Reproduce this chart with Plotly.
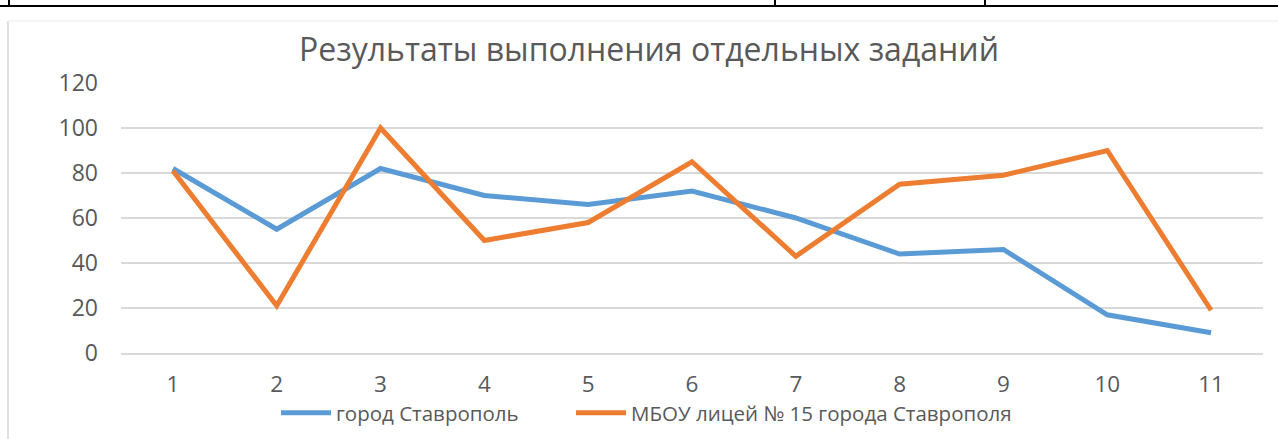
import plotly.graph_objects as go

tasks = ["1", "2", "3", "4", "5", "6", "7", "8", "9", "10", "11"]
city = [82, 55, 82, 70, 66, 72, 60, 44, 46, 17, 9]
school = [81, 21, 100, 50, 58, 85, 43, 75, 79, 90, 19]
series_names = ["город Ставрополь", "МБОУ лицей № 15 города Ставрополя"]
title_text = "Результаты выполнения отдельных заданий"

W, H = 1278, 439
L, R, T, B = 121, 15, 83, 86
PW, PH = W - L - R, H - T - B

def px(x):
    return (x - L) / PW

def py(y):
    return (H - B - y) / PH

FONT = "Open Sans"
GREY_TXT = "#595959"

fig = go.Figure()
fig.add_trace(go.Scatter(x=tasks, y=city, name=series_names[0], mode="lines",
                         line=dict(color="#5B9BD5", width=5), legend="legend"))
fig.add_trace(go.Scatter(x=tasks, y=school, name=series_names[1], mode="lines",
                         line=dict(color="#ED7D31", width=5), legend="legend2"))

shapes = []
# table border at top
shapes.append(dict(type="line", xref="paper", yref="paper", x0=px(0), x1=px(W), y0=py(6), y1=py(6),
                   line=dict(color="black", width=2)))
for xv in [9, 775, 985]:
    shapes.append(dict(type="line", xref="paper", yref="paper", x0=px(xv), x1=px(xv), y0=py(0), y1=py(6),
                       line=dict(color="black", width=2)))
# chart frame
shapes.append(dict(type="line", xref="paper", yref="paper", x0=px(8), x1=px(8), y0=py(21), y1=py(H),
                   line=dict(color="#d9d9d9", width=1.5)))
shapes.append(dict(type="line", xref="paper", yref="paper", x0=px(8), x1=px(W), y0=py(21), y1=py(21),
                   line=dict(color="#ececec", width=1)))

legend_common = dict(orientation="h", xref="paper", yref="paper", yanchor="middle", xanchor="left",
                     font=dict(size=20.5, color=GREY_TXT, family=FONT), bgcolor="rgba(0,0,0,0)",
                     itemwidth=50, tracegroupgap=0)

fig.update_layout(
    width=W, height=H,
    margin=dict(l=L, r=R, t=T, b=B, autoexpand=False),
    paper_bgcolor="white", plot_bgcolor="white",
    font=dict(family=FONT, color=GREY_TXT),
    title=dict(text=title_text, xref="container", yref="container", x=649 / W, y=1 - 50 / H,
               xanchor="center", yanchor="middle", font=dict(size=32, color=GREY_TXT, family=FONT)),
    showlegend=True,
    legend=dict(x=px(276), y=py(413), **legend_common),
    legend2=dict(x=px(571), y=py(413), **legend_common),
    xaxis=dict(type="category", range=[-0.5, 10.5], showgrid=False, zeroline=False,
               showline=True, linecolor="#d9d9d9", linewidth=1.5, automargin=False,
               tickfont=dict(size=22.5, color=GREY_TXT), ticks="", ticklabelstandoff=10),
    yaxis=dict(range=[0, 120], dtick=20, tick0=0, showgrid=True, gridcolor="#d9d9d9", gridwidth=1.5,
               zeroline=False, showline=False, automargin=False,
               tickfont=dict(size=23, color=GREY_TXT), ticks="", ticklabelstandoff=22),
    shapes=shapes,
)

fig.write_html("out.html", config={"displayModeBar": False},
               post_script="document.body.style.margin='0';")
